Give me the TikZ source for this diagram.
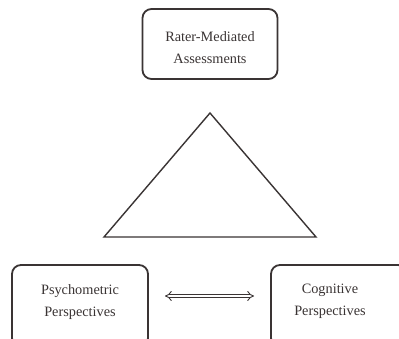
\documentclass[tikz,border=0pt]{standalone}
\usepackage{fontspec}
\setmainfont{Liberation Serif}
\usetikzlibrary{arrows.meta}
\definecolor{ink}{HTML}{3A3434}
\begin{document}
\begin{tikzpicture}[x=1pt,y=-1pt,
  box/.style={draw=ink, line width=1.8pt, rounded corners=9pt, inner sep=0pt},
  lbl/.style={align=center, font=\fontsize{14.3}{22}\selectfont, text=ink, inner sep=0pt},
  tri/.style={draw=ink, line width=1.4pt, line join=miter}]
\useasboundingbox[fill=white] (0,0) rectangle (399,339);
\node[box, minimum width=135pt, minimum height=70pt] (top) at (210,44) {};
\node[lbl] (toptext) at (210,48) {Rater-Mediated\\Assessments};
\node[box, minimum width=136pt, minimum height=82pt] (psy) at (80,306) {};
\node[lbl] (psytext) at (80,302) {Psychometric\\Perspectives};
\node[box, minimum width=136pt, minimum height=82pt] (cog) at (339,306) {};
\node[lbl] (cogtext) at (330,301) {Cognitive\\Perspectives};
\coordinate (apex) at (210,113);
\coordinate (bl) at (104,237);
\coordinate (br) at (316,237);
\draw[tri] (apex) -- (bl) -- (br) -- cycle;
\coordinate (aL) at (165,296);
\coordinate (aR) at (254,296);
\draw[draw=ink, double=white, double distance=2.6pt, line width=0.9pt, {Implies}-{Implies}] (aL) -- (aR);
\end{tikzpicture}
\end{document}
